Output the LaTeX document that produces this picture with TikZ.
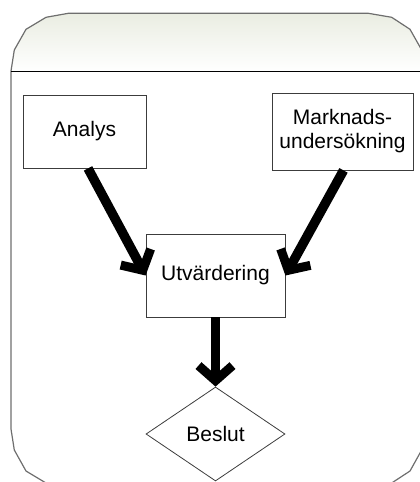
\documentclass[tikz,border=0pt]{standalone}
\usepackage{fontspec}
\setmainfont{Liberation Sans}
\usetikzlibrary{shapes.geometric,arrows.meta}
\definecolor{framegray}{RGB}{110,110,110}
\definecolor{boxline}{RGB}{60,60,60}
\definecolor{headtop}{RGB}{234,237,226}
\tikzset{
  stepbox/.style={draw=boxline, line width=0.8pt, fill=white, inner sep=0pt,
    font=\fontsize{21}{24}\selectfont, align=center},
  decision/.style={diamond, draw=boxline, line width=0.8pt, fill=white, inner sep=0pt,
    minimum width=139pt, minimum height=94pt, font=\fontsize{21}{24}\selectfont},
  flow/.style={draw=black, line width=9.5pt,
    -{Straight Barb[length=15pt, width=34pt, line width=9pt]}},
}
\begin{document}
\begin{tikzpicture}[x=1pt, y=-1pt]
  \useasboundingbox (0,0) rectangle (420,482);
  % panel header, shaded
  \shade[top color=headtop, bottom color=white]
    (11,71.5) -- (11,71) -- (14.3,50) -- (26,29.3) -- (46,17.3) -- (68.3,13.3)
    -- (368.3,13.3) -- (391.7,17.3) -- (410,29.3) -- (421.7,50) -- (425,71)
    -- (425,71.5) -- cycle;
  % panel outline
  \draw[framegray, line width=1.2pt]
    (11,71) -- (14.3,50) -- (26,29.3) -- (46,17.3) -- (68.3,13.3)
    -- (368.3,13.3) -- (391.7,17.3) -- (410,29.3) -- (421.7,50) -- (425,71)
    -- (425,429) -- (421.7,450) -- (410,471) -- (391.7,483) -- (368.3,487)
    -- (68.3,487) -- (46,483) -- (26,471) -- (14.3,450) -- (11,429) -- cycle;
  % header separator
  \draw[black, line width=1pt] (11,71.5) -- (425,71.5);

  % process steps
  \node[stepbox, minimum width=123pt, minimum height=73pt] (an) at (84.5,131.5) {Analys};
  \node[stepbox, minimum width=141pt, minimum height=77pt] (mk) at (342.5,131.5)
    {Marknads-\\undersökning};
  \node[stepbox, minimum width=139pt, minimum height=83pt] (ut) at (215.5,275.5) {Utvärdering};
  \node[decision] (be) at (215.5,434) {Beslut};

  % flow arrows
  \draw[flow] ([xshift=3.5pt]an.south) -- (ut.west);
  \draw[flow] ([xshift=1pt]mk.south) -- (ut.east);
  \draw[flow] (ut.south) -- (be.north);
\end{tikzpicture}
\end{document}
